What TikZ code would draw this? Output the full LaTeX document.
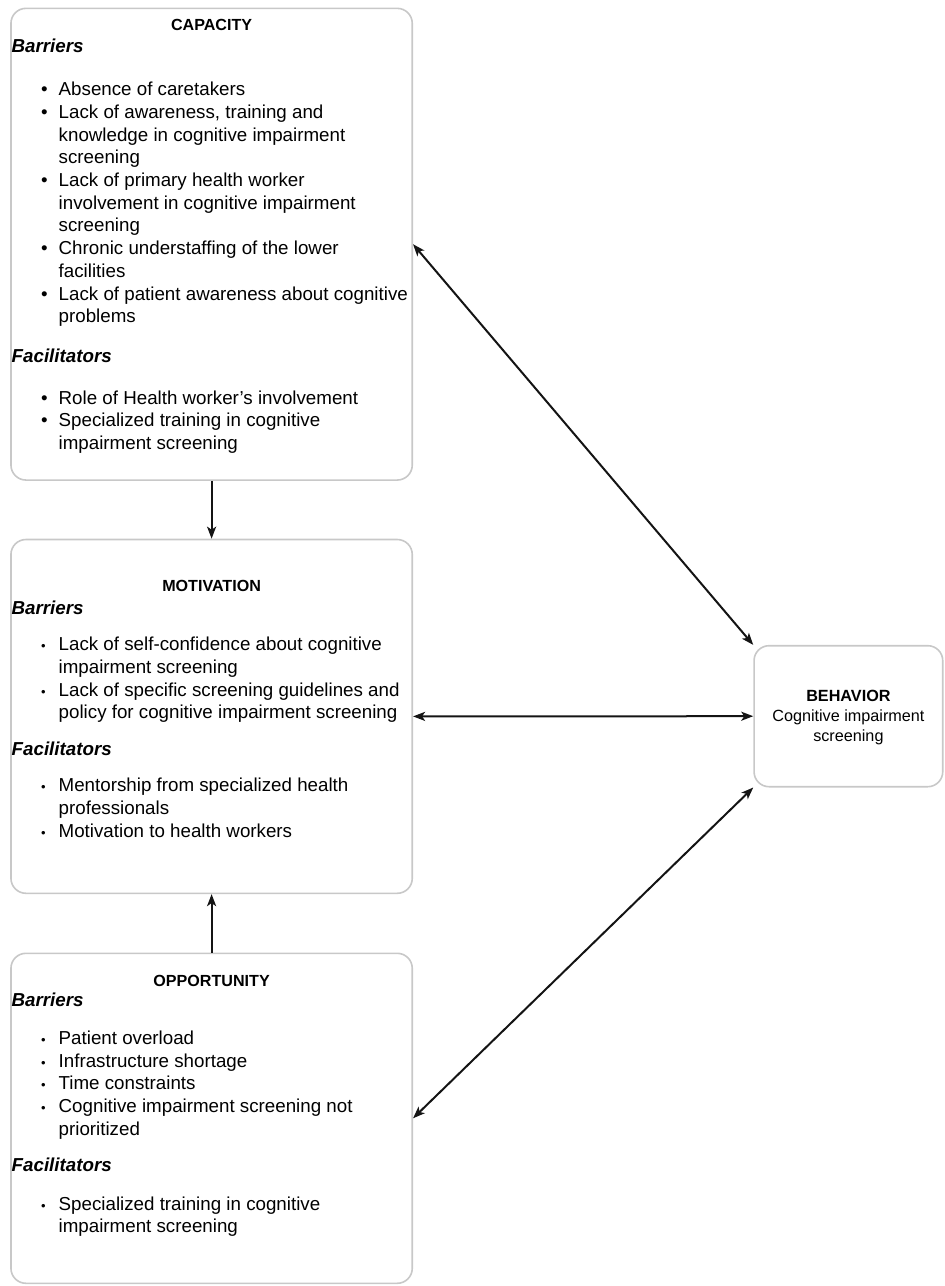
\documentclass[tikz,border=0pt]{standalone}
\usepackage{fontspec}
\setmainfont{Liberation Sans}
\usetikzlibrary{arrows.meta}
\definecolor{boxgray}{RGB}{200,200,200}
\definecolor{arrowblack}{RGB}{20,20,20}
\newcommand\bA{\makebox[17.5pt][l]{•}}
\newcommand\bB{\makebox[17.5pt][l]{\fontsize{13}{13}\selectfont •}}
\newcommand\ind{\hspace*{17.5pt}}
\begin{document}
\begin{tikzpicture}[x=1pt,y=-1pt,
  box/.style={draw=boxgray, line width=1.6pt, rounded corners=15pt, inner sep=0pt, fill=white},
  wbox/.style={box, minimum width=401.3pt},
  ttl/.style={inner sep=0pt, anchor=base, font=\fontsize{16.1}{19.3}\selectfont\bfseries},
  hd/.style={inner sep=0pt, anchor=base west, font=\fontsize{18.75}{22.7}\selectfont\bfseries\itshape},
  lst/.style={inner sep=0pt, anchor=base west, font=\fontsize{18.75}{22.7}\selectfont},
  tip/.tip={Stealth[length=12pt,width=9pt,inset=3pt]},
  arr/.style={-tip, line width=2pt, draw=arrowblack},
  darr/.style={tip-tip, line width=2pt, draw=arrowblack}
]
\useasboundingbox (0,0) rectangle (945,1286);

% boxes
\node[wbox, minimum height=471.7pt] (cap) at (211.6,244.2) {};
\node[wbox, minimum height=353.8pt] (mot) at (211.6,716.4) {};
\node[wbox, minimum height=330pt] (opp) at (211.6,1118.3) {};
\node[box, minimum width=188.7pt, minimum height=141pt] (beh) at (848.4,716.2) {};

% capacity
\node[ttl] (capT) at (211.6,30.7) {CAPACITY};
\node[hd] (capB) at (11.5,52) {Barriers};
\node[lst] (capL1) at (41,95.7) {\begin{tabular}[t]{@{}l@{}}
\bA Absence of caretakers\\
\bA Lack of awareness, training and\\
\ind knowledge in cognitive impairment\\
\ind screening\\
\bA Lack of primary health worker\\
\ind involvement in cognitive impairment\\
\ind screening\\
\bA Chronic understaffing of the lower\\
\ind facilities\\
\bA Lack of patient awareness about cognitive\\
\ind problems
\end{tabular}};
\node[hd] (capF) at (11.5,362.3) {Facilitators};
\node[lst] (capL2) at (41,404) {\begin{tabular}[t]{@{}l@{}}
\bA Role of Health worker’s involvement\\
\bA Specialized training in cognitive\\
\ind impairment screening
\end{tabular}};

% motivation
\node[ttl] (motT) at (211.6,591.7) {MOTIVATION};
\node[hd] (motB) at (11.5,614.3) {Barriers};
\node[lst] (motL1) at (41,650.7) {\begin{tabular}[t]{@{}l@{}}
\bB Lack of self-confidence about cognitive\\
\ind impairment screening\\
\bB Lack of specific screening guidelines and\\
\ind policy for cognitive impairment screening
\end{tabular}};
\node[hd] (motF) at (11.5,755) {Facilitators};
\node[lst] (motL2) at (41,791.7) {\begin{tabular}[t]{@{}l@{}}
\bB Mentorship from specialized health\\
\ind professionals\\
\bB Motivation to health workers
\end{tabular}};

% opportunity
\node[ttl] (oppT) at (211.6,986) {OPPORTUNITY};
\node[hd] (oppB) at (11.5,1006.7) {Barriers};
\node[lst] (oppL1) at (41,1044.3) {\begin{tabular}[t]{@{}l@{}}
\bB Patient overload\\
\bB Infrastructure shortage\\
\bB Time constraints\\
\bB Cognitive impairment screening not\\
\ind prioritized
\end{tabular}};
\node[hd] (oppF) at (11.5,1171.7) {Facilitators};
\node[lst] (oppL2) at (41,1210) {\begin{tabular}[t]{@{}l@{}}
\bB Specialized training in cognitive\\
\ind impairment screening
\end{tabular}};

% behavior
\node[inner sep=0pt, anchor=base, font=\fontsize{16.2}{20}\selectfont] (behT) at (848.4,701.7) {\begin{tabular}[t]{@{}c@{}}
\textbf{BEHAVIOR}\\
Cognitive impairment\\
screening
\end{tabular}};

% connectors
\draw[arr] (cap.south) -- (mot.north);
\draw[arr] (opp.north) -- (mot.south);
\draw[darr] (cap.east) -- (beh.north west);
\draw[darr] (mot.east) -- (beh.west);
\draw[darr] (opp.east) -- (beh.south west);
\end{tikzpicture}
\end{document}
